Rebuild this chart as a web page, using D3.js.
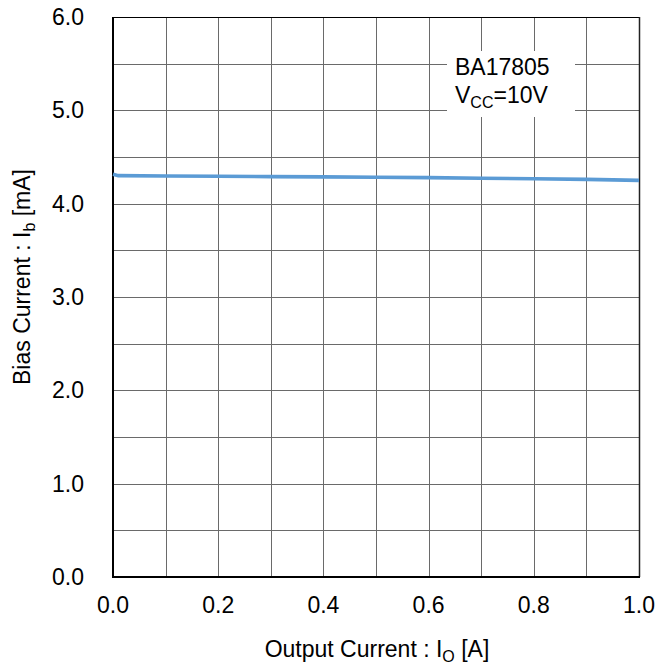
<!DOCTYPE html>
<html><head><meta charset="utf-8">
<script src="https://cdn.jsdelivr.net/npm/d3@7"></script>
<style>body{margin:0;background:#fff}svg{display:block}text{font-family:"Liberation Sans",Arial,sans-serif;fill:#000}</style>
</head><body><svg id="c" width="669" height="666"></svg>
<script>
const outputCurrent = [0, 0.01, 0.1, 0.2, 0.3, 0.4, 0.5, 0.6, 0.7, 0.8, 0.9, 1.0];
const biasCurrent   = [4.315, 4.30, 4.297, 4.293, 4.29, 4.287, 4.283, 4.279, 4.273, 4.267, 4.26, 4.25];
const xTicks = [0, 0.2, 0.4, 0.6, 0.8, 1.0];
const yTicks = [0, 1, 2, 3, 4, 5, 6];
const xGrid = d3.range(0, 11).map(i => i / 10);
const yGrid = d3.range(0, 13).map(i => i / 2);

const FS = 23, SUB = 16;
const svg = d3.select("#c");
const L = 113, R = 639, T = 17, B = 577;
const x = d3.scaleLinear().domain([0, 1]).range([L, R]);
const y = d3.scaleLinear().domain([0, 6]).range([B, T]);

const g = svg.append("g");
g.selectAll(".vg").data(xGrid).join("line")
  .attr("x1", d => Math.round(x(d)) + 0.5).attr("x2", d => Math.round(x(d)) + 0.5)
  .attr("y1", T).attr("y2", B).attr("stroke", "#6a6a6a").attr("stroke-width", 1);
g.selectAll(".hg").data(yGrid).join("line")
  .attr("y1", d => Math.round(y(d)) + 0.5).attr("y2", d => Math.round(y(d)) + 0.5)
  .attr("x1", L).attr("x2", R).attr("stroke", "#6a6a6a").attr("stroke-width", 1);

// label box
svg.append("rect").attr("x", 447).attr("y", 51).attr("width", 128).attr("height", 66).attr("fill", "#fff");
svg.append("text").attr("x", 455).attr("y", 75).attr("font-size", FS).text("BA17805");
const t2 = svg.append("text").attr("x", 455).attr("y", 103).attr("font-size", FS);
t2.append("tspan").text("V");
t2.append("tspan").attr("font-size", SUB).attr("dy", 5).text("CC");
t2.append("tspan").attr("dy", -5).text("=10V");

// frame
svg.append("line").attr("x1", L).attr("x2", R).attr("y1", T + 0.5).attr("y2", T + 0.5).attr("stroke", "#000").attr("stroke-width", 1);
svg.append("line").attr("x1", R + 0.5).attr("x2", R + 0.5).attr("y1", T).attr("y2", B).attr("stroke", "#222").attr("stroke-width", 1.5);
svg.append("line").attr("x1", L).attr("x2", L).attr("y1", T).attr("y2", B + 1).attr("stroke", "#000").attr("stroke-width", 2);
svg.append("line").attr("x1", L - 1).attr("x2", R + 1).attr("y1", B).attr("y2", B).attr("stroke", "#000").attr("stroke-width", 2);

// data line
svg.append("path").datum(outputCurrent.map((d, i) => [d, biasCurrent[i]]))
  .attr("d", d3.line().x(d => x(d[0])).y(d => y(d[1])))
  .attr("fill", "none").attr("stroke", "#5b9bd5").attr("stroke-width", 3.6);

// ticks
svg.selectAll(".xt").data(xTicks).join("text")
  .attr("x", d => x(d)).attr("y", 613).attr("text-anchor", "middle").attr("font-size", FS)
  .text(d => d.toFixed(1));
svg.selectAll(".yt").data(yTicks).join("text")
  .attr("x", 84).attr("y", d => y(d) + 8).attr("text-anchor", "end").attr("font-size", FS)
  .text(d => d.toFixed(1));

// axis titles
const xt = svg.append("text").attr("x", 377).attr("y", 657).attr("text-anchor", "middle").attr("font-size", FS);
xt.append("tspan").text("Output Current : I");
xt.append("tspan").attr("font-size", SUB).attr("dy", 5).text("O");
xt.append("tspan").attr("dy", -5).text(" [A]");

const yt = svg.append("text").attr("transform", "translate(30,277) rotate(-90)").attr("text-anchor", "middle").attr("font-size", FS);
yt.append("tspan").text("Bias Current : I");
yt.append("tspan").attr("font-size", SUB).attr("dy", 5).text("b");
yt.append("tspan").attr("dy", -5).text(" [mA]");
</script></body></html>
